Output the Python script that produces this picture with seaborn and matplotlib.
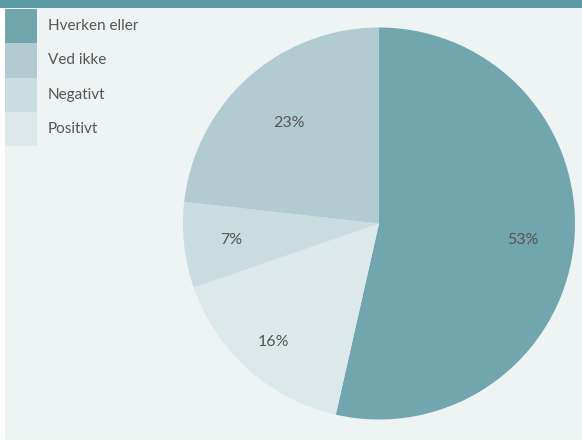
import matplotlib
matplotlib.use("Agg")
import numpy as np
import matplotlib.pyplot as plt
import seaborn as sns
from matplotlib.patches import Rectangle

categories = ["Hverken eller", "Ved ikke", "Negativt", "Positivt"]
values = [53, 23, 7, 16]
colors = ["#72a6af", "#b1cbd0", "#c9dce0", "#dce8ea"]
pie_order = ["Hverken eller", "Positivt", "Negativt", "Ved ikke"]

sns.set_theme(style="white")
plt.rcParams["font.family"] = ["Lato", "DejaVu Sans"]

W, H = 582, 443
fig = plt.figure(figsize=(W / 100, H / 100), dpi=100)
fig.patch.set_facecolor("#ffffff")

def px(x, y, w, h):
    return (x / W, 1 - (y + h) / H, w / W, h / H)

# background panel and top band
bx, by, bw, bh = px(5, 8, 577, 432)
fig.patches.append(Rectangle((bx, by), bw, bh, transform=fig.transFigure,
                             facecolor="#eef3f4", edgecolor="none", zorder=-2))
tx, ty, tw, th = px(0, 0, W, 8)
fig.patches.append(Rectangle((tx, ty), tw, th, transform=fig.transFigure,
                             facecolor="#5b9aa3", edgecolor="none", zorder=-2))

# pie
cx, cy, r = 379, 223.5, 196
ax = fig.add_axes(px(cx - r, cy - r, 2 * r, 2 * r))
ax.set_zorder(5)
ax.set_facecolor("none")
idx = [categories.index(c) for c in pie_order]
vals = [values[i] for i in idx]
cols = [colors[i] for i in idx]
wedges, texts, autotexts = ax.pie(
    vals, colors=cols, startangle=90, counterclock=False,
    autopct=lambda p: f"{p:.0f}%", pctdistance=0.73,
    wedgeprops=dict(linewidth=0, edgecolor="none"),
    textprops=dict(color="#555555", fontsize=11.5),
    radius=1.0,
)
label_dist = [0.74, 0.81, 0.76, 0.69]
for t, v, w, d in zip(autotexts, vals, wedges, label_dist):
    t.set_text(f"{v}%")
    th_mid = np.deg2rad((w.theta1 + w.theta2) / 2)
    t.set_position((d * np.cos(th_mid), d * np.sin(th_mid)))
ax.set_xlim(-1, 1)
ax.set_ylim(-1, 1)
ax.set_aspect("equal")
ax.axis("off")

# legend
for i, (cat, col) in enumerate(zip(categories, colors)):
    y0 = 9 + i * 34.25
    rx, ry, rw, rh = px(5, y0, 32, 34.25)
    fig.patches.append(Rectangle((rx, ry), rw, rh, transform=fig.transFigure,
                                 facecolor=col, edgecolor="none", zorder=1))
    fig.text(48 / W, 1 - (y0 + 17) / H, cat, ha="left", va="center",
             fontsize=11, color="#555555")

fig.savefig("out.png", dpi=100, facecolor=fig.get_facecolor())
